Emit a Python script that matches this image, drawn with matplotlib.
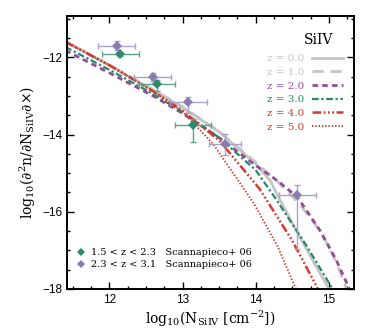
import matplotlib
matplotlib.use("Agg")
import matplotlib.pyplot as plt
from matplotlib.lines import Line2D

plt.rcParams["mathtext.fontset"] = "dejavuserif"

# model curves: log10 N vs log10 f(N)
x_z0 = [11.4, 12.0, 12.6, 13.0, 13.5, 14.0, 14.2, 14.3, 14.6, 15.0]
y_z0 = [-11.58, -12.21, -12.85, -13.30, -13.93, -14.76, -15.20, -15.58, -16.65, -18.0]
x_z1 = [11.4, 12.0, 12.6, 13.0, 13.5, 14.0, 14.3, 14.6, 14.9, 15.1, 15.24]
y_z1 = [-11.58, -12.20, -12.84, -13.28, -13.92, -14.72, -15.22, -15.80, -16.55, -17.30, -18.0]
x_z2 = [11.4, 12.0, 12.6, 13.0, 13.5, 14.0, 14.3, 14.57, 14.87, 15.1, 15.28]
y_z2 = [-11.82, -12.40, -13.00, -13.45, -14.08, -14.80, -15.20, -15.62, -16.46, -17.25, -18.0]
x_z3 = [11.4, 12.0, 12.6, 13.0, 13.5, 14.0, 14.28, 14.7, 15.05]
y_z3 = [-11.73, -12.32, -12.95, -13.42, -14.08, -14.92, -15.68, -16.90, -18.0]
x_z4 = [11.4, 12.0, 12.6, 13.0, 13.5, 14.05, 14.5, 14.85]
y_z4 = [-11.60, -12.20, -12.88, -13.38, -14.15, -15.40, -16.75, -18.0]
x_z5 = [11.4, 12.0, 12.6, 13.0, 13.42, 13.98, 14.3, 14.55]
y_z5 = [-11.60, -12.20, -12.88, -13.40, -14.25, -15.80, -16.90, -18.0]

z_labels = ["z = 0.0", "z = 1.0", "z = 2.0", "z = 3.0", "z = 4.0", "z = 5.0"]

# Scannapieco+ 06 data
obs1_x = [12.15, 12.65, 13.14]
obs1_y = [-11.91, -12.70, -13.74]
obs1_xerr = [0.25, 0.25, 0.25]
obs1_ylo = [0.05, 0.17, 0.44]
obs1_yhi = [0.05, 0.12, 0.14]

obs2_x = [12.10, 12.59, 13.08, 13.58, 14.57]
obs2_y = [-11.70, -12.50, -13.15, -14.24, -15.57]
obs2_xerr = [0.25, 0.25, 0.25, 0.22, 0.25]
obs2_ylo = [0.12, 0.10, 0.30, 0.30, 1.40]
obs2_yhi = [0.13, 0.10, 0.13, 0.26, 0.27]

obs_labels = ["1.5 < z < 2.3   Scannapieco+ 06", "2.3 < z < 3.1   Scannapieco+ 06"]

gray = "#c4c4c4"
purple = "#974a9a"
green = "#25876b"
red4 = "#d33a2c"
red5 = "#c93a30"
pt_green = "#2e8a6e"
pt_purple = "#8a7cae"

fig = plt.figure(figsize=(3.74, 3.36), dpi=100)
ax = fig.add_axes([0.179, 0.140, 0.767, 0.812])

ax.plot(x_z0, y_z0, color=gray, lw=2.0, ls="-", label=z_labels[0])
ax.plot(x_z1, y_z1, color=gray, lw=2.0, ls=(0, (4, 2.5)), label=z_labels[1])
ax.plot(x_z2, y_z2, color=purple, lw=2.0, ls=(0, (2, 1.5)), label=z_labels[2])
ax.plot(x_z3, y_z3, color=green, lw=1.6, ls=(0, (3, 1.2, 1, 1.2)), label=z_labels[3])
ax.plot(x_z4, y_z4, color=red4, lw=1.8, ls=(0, (3.5, 1, 0.7, 1, 0.7, 1, 0.7, 1)), label=z_labels[4])
ax.plot(x_z5, y_z5, color=red5, lw=1.4, ls=(0, (0.7, 1.0)), label=z_labels[5])

ax.errorbar(obs2_x, obs2_y, xerr=obs2_xerr, yerr=[obs2_ylo, obs2_yhi], fmt="none",
            ecolor="#aaa2c8", elinewidth=1.0, capsize=2)
ax.errorbar(obs1_x, obs1_y, xerr=obs1_xerr, yerr=[obs1_ylo, obs1_yhi], fmt="none",
            ecolor="#5aa58c", elinewidth=1.0, capsize=2)
ax.plot(obs2_x, obs2_y, "D", color=pt_purple, ms=5.5, mew=0)
ax.plot(obs1_x, obs1_y, "D", color=pt_green, ms=5.5, mew=0)

ax.set_xlim(11.42, 15.34)
ax.set_ylim(-18, -10.93)
ax.set_xticks([12, 13, 14, 15])
ax.set_yticks([-18, -16, -14, -12])
ax.xaxis.set_minor_locator(matplotlib.ticker.MultipleLocator(0.25))
ax.yaxis.set_minor_locator(matplotlib.ticker.MultipleLocator(0.5))
ax.tick_params(which="both", direction="in", top=True, right=True, width=1.0)
ax.tick_params(which="major", length=5, labelsize=8.5)
ax.tick_params(which="minor", length=2.5)
for lab in ax.get_xticklabels() + ax.get_yticklabels():
    lab.set_fontfamily("Liberation Sans")
for s in ax.spines.values():
    s.set_linewidth(1.4)

ax.set_xlabel(r"$\mathrm{log_{10}(N_{SiIV}\ [cm^{-2}])}$", fontsize=10, labelpad=2)
ax.set_ylabel(r"$\mathrm{log_{10}(\partial^2 n/\partial N_{SiIV}\partial{\times})}$", fontsize=10, labelpad=3)

ax.text(0.878, 0.912, "SiIV", transform=ax.transAxes, ha="center", va="center",
        fontsize=10, family="DejaVu Serif")
leg1 = ax.legend(loc="upper right", frameon=False, markerfirst=False,
                 labelcolor="linecolor", handlelength=3.0, handletextpad=0.7,
                 labelspacing=0.42, bbox_to_anchor=(0.995, 0.895),
                 prop={"family": "DejaVu Serif", "size": 7.5})
ax.add_artist(leg1)

h1 = Line2D([], [], marker="D", color=pt_green, ls="none", ms=4, mew=0)
h2 = Line2D([], [], marker="D", color=pt_purple, ls="none", ms=4, mew=0)
ax.legend([h1, h2], obs_labels, loc="lower left", frameon=False, handlelength=1.0,
          handletextpad=0.6, labelspacing=0.3, bbox_to_anchor=(0.0, 0.04),
          prop={"family": "DejaVu Serif", "size": 7})

fig.savefig("out.png", dpi=100)
